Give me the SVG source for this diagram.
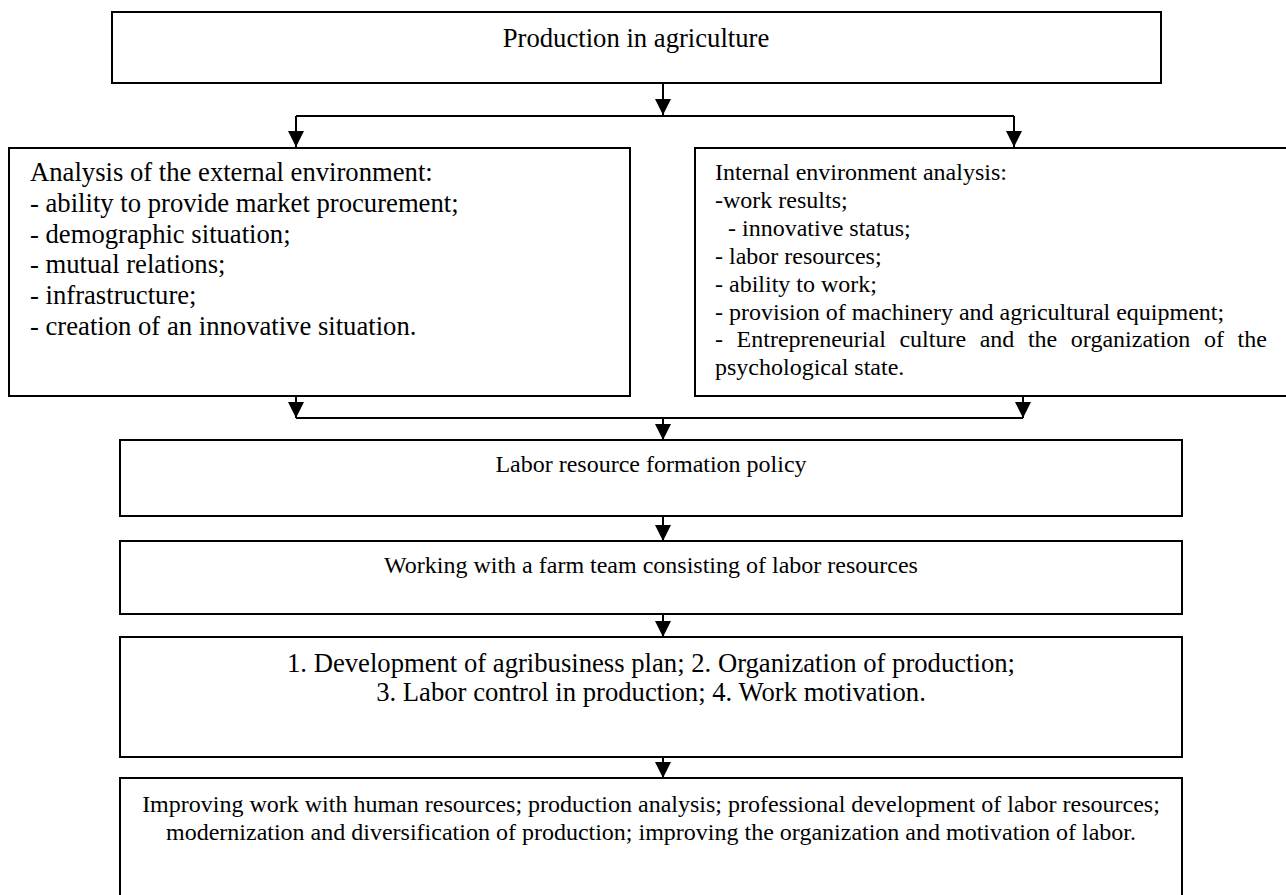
<svg xmlns="http://www.w3.org/2000/svg" width="1286" height="895" viewBox="0 0 1286 895">
<style>
.box{fill:#fff;stroke:#000;stroke-width:2}
.ln{fill:none;stroke:#000;stroke-width:2}
text{font-family:"Liberation Serif","Times New Roman",serif;fill:#000}
.f27{font-size:26.67px}
.f24{font-size:24px}
.c{text-anchor:middle}
</style>
<defs>
<marker id="ah" markerUnits="userSpaceOnUse" markerWidth="17" markerHeight="16" refX="16" refY="8" orient="auto" viewBox="0 0 17 16">
<path d="M0,0 L16,8 L0,16 Z" fill="#000"/>
</marker>
</defs>
<rect width="1286" height="895" fill="#fff"/>
<g id="connectors">
<path class="ln" d="M663,83 V115" marker-end="url(#ah)"/>
<path class="ln" d="M296,116 H1014"/>
<path class="ln" d="M296,116 V147" marker-end="url(#ah)"/>
<path class="ln" d="M1014,116 V147" marker-end="url(#ah)"/>
<path class="ln" d="M296,396 V418" marker-end="url(#ah)"/>
<path class="ln" d="M1023,396 V418" marker-end="url(#ah)"/>
<path class="ln" d="M296,418 H1023"/>
<path class="ln" d="M663,418 V440" marker-end="url(#ah)"/>
<path class="ln" d="M663,516 V541" marker-end="url(#ah)"/>
<path class="ln" d="M663,614 V637" marker-end="url(#ah)"/>
<path class="ln" d="M663,757 V778" marker-end="url(#ah)"/>
</g>
<g id="n-production">
<rect class="box" x="112" y="12" width="1049" height="71"/>
<text class="f27 c" x="636" y="47">Production in agriculture</text>
</g>
<g id="n-external">
<rect class="box" x="9" y="148" width="621" height="248"/>
<text class="f27" x="30" y="181">Analysis of the external environment:</text>
<text class="f27" x="30" y="212">- ability to provide market procurement;</text>
<text class="f27" x="30" y="243">- demographic situation;</text>
<text class="f27" x="30" y="273">- mutual relations;</text>
<text class="f27" x="30" y="304">- infrastructure;</text>
<text class="f27" x="30" y="335">- creation of an innovative situation.</text>
</g>
<g id="n-internal">
<rect class="box" x="695" y="148" width="600" height="248"/>
<text class="f24" x="715" y="180">Internal environment analysis:</text>
<text class="f24" x="715" y="208">-work results;</text>
<text class="f24" x="728" y="236">- innovative status;</text>
<text class="f24" x="715" y="264">- labor resources;</text>
<text class="f24" x="715" y="292">- ability to work;</text>
<text class="f24" x="715" y="320">- provision of machinery and agricultural equipment;</text>
<text class="f24" x="715" y="347" word-spacing="7.6">- Entrepreneurial culture and the organization of the</text>
<text class="f24" x="715" y="375">psychological state.</text>
</g>
<g id="n-policy">
<rect class="box" x="120" y="440" width="1062" height="76"/>
<text class="f24 c" x="651" y="472">Labor resource formation policy</text>
</g>
<g id="n-team">
<rect class="box" x="120" y="541" width="1062" height="73"/>
<text class="f24 c" x="651" y="573">Working with a farm team consisting of labor resources</text>
</g>
<g id="n-steps">
<rect class="box" x="120" y="637" width="1062" height="120"/>
<text class="f27 c" x="651" y="672">1. Development of agribusiness plan; 2. Organization of production;</text>
<text class="f27 c" x="651" y="701">3. Labor control in production; 4. Work motivation.</text>
</g>
<g id="n-improving">
<rect class="box" x="120" y="778" width="1062" height="130"/>
<text class="f24 c" x="651" y="812">Improving work with human resources; production analysis; professional development of labor resources;</text>
<text class="f24 c" x="651" y="840">modernization and diversification of production; improving the organization and motivation of labor.</text>
</g>
</svg>
